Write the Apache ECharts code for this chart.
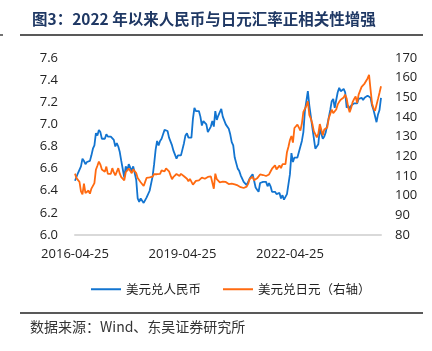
<!DOCTYPE html>
<html><head><meta charset="utf-8">
<script src="https://cdn.jsdelivr.net/npm/echarts@6/dist/echarts.min.js"></script>
<style>html,body{margin:0;padding:0;background:#fff}#c{width:432px;height:351px}</style>
</head><body><div id="c"></div>
<script>
// Semi-monthly observations (10th and 25th of each month), 2016-04-25 .. 2024-11-10
function buildDates(){
  var out=[], y=2016, m=4, d=25;
  while(true){
    out.push(y+'-'+(m<10?'0':'')+m+'-'+d);
    if(y===2024 && m===11 && d===10) break;
    if(d===25){d=10; m++; if(m>12){m=1;y++;}} else {d=25;}
  }
  return out;
}
var dates = buildDates();
var shownLabels = ['2016-04-25','2019-04-25','2022-04-25'];

var usdcny = [
6.49,6.50,6.56,6.56,6.62,6.69,6.67,6.64,6.66,6.67,6.67,6.72,6.78,6.81,6.92,6.90,6.95,
6.93,6.87,6.88,6.87,6.91,6.89,6.90,6.89,6.90,6.86,6.80,6.83,6.80,6.75,6.67,6.66,6.52,6.62,6.58,6.64,6.64,6.58,6.62,6.56,
6.50,6.33,6.30,6.33,6.33,6.29,6.30,6.34,6.35,6.40,6.41,6.53,6.64,6.77,6.85,6.81,6.85,6.87,6.91,6.95,6.95,6.94,6.88,6.89,
6.81,6.76,6.77,6.69,6.72,6.71,6.72,6.73,6.83,6.90,6.92,6.88,6.88,6.88,7.05,7.15,7.12,7.12,7.12,7.07,6.99,7.03,7.03,7.00,
6.93,6.93,6.98,7.03,6.98,7.12,7.04,7.08,7.08,7.14,7.07,7.08,7.00,6.99,6.96,6.91,6.84,6.81,6.70,6.69,6.60,6.58,6.54,6.53,
6.48,6.48,6.45,6.46,6.51,6.53,6.55,6.49,6.43,6.41,6.39,6.47,6.48,6.48,6.47,6.48,6.44,6.47,6.44,6.39,6.40,6.39,6.37,6.37,
6.38,6.33,6.36,6.32,6.32,6.37,6.37,6.55,6.74,6.66,6.70,6.69,6.70,6.75,6.75,6.85,6.93,7.12,7.12,7.30,7.17,7.16,6.97,6.97,
6.78,6.79,6.82,6.96,6.95,6.87,6.89,6.93,6.93,7.06,7.13,7.21,7.23,7.15,7.22,7.29,7.33,7.30,7.30,7.32,7.29,7.15,7.17,7.14,
7.17,7.18,7.19,7.19,7.19,7.23,7.23,7.24,7.22,7.24,7.25,7.26,7.27,7.24,7.17,7.13,7.12,7.02,7.09,7.13,7.24
];
var usdjpy = [
111.2,108.9,109.9,107.0,102.2,100.6,106.1,101.3,100.5,102.6,101.0,103.6,104.3,106.4,113.2,115.2,117.3,
115.8,113.3,113.3,112.1,114.8,111.1,111.0,111.1,114.0,111.8,110.3,111.3,114.0,111.2,109.4,109.3,107.8,111.9,112.4,113.8,113.5,111.4,113.4,113.3,
111.5,109.0,108.8,106.8,106.8,104.9,107.0,109.1,109.6,109.3,109.8,109.7,111.0,111.0,110.9,111.2,111.1,112.9,112.5,112.3,113.9,112.9,112.4,110.3,
108.4,109.6,109.8,111.0,111.2,110.0,111.1,111.6,109.9,109.4,108.6,107.3,108.5,108.2,105.6,105.4,107.5,107.6,107.8,108.7,109.2,108.9,108.6,109.4,
109.5,109.3,109.8,110.6,103.5,111.2,108.4,107.5,106.8,107.7,107.1,107.2,107.0,106.0,105.9,106.3,106.1,105.5,105.7,104.8,105.2,104.4,104.3,103.6,
103.9,103.8,104.6,106.0,108.5,109.2,109.6,107.8,108.8,108.8,109.6,110.8,110.2,110.5,110.6,110.0,109.9,110.8,112.3,113.7,112.9,115.4,113.4,114.3,
115.3,114.0,116.0,115.5,116.0,122.1,124.9,128.3,130.3,127.0,134.4,135.2,136.1,136.7,133.1,136.7,142.6,143.3,145.7,148.0,140.9,139.2,136.6,132.8,
132.2,129.6,131.4,136.4,136.2,130.7,133.6,133.7,134.7,139.4,139.4,143.7,142.0,141.0,143.8,146.4,147.7,148.8,148.8,149.9,151.4,149.4,145.1,142.4,
144.6,147.6,149.2,150.4,147.1,151.4,151.9,155.3,155.7,157.0,157.1,159.6,161.5,153.9,146.9,144.4,143.1,144.0,149.2,152.3,155.6
];
var seriesNames = ['美元兑人民币','美元兑日元（右轴）'];
var titleText = '图3：2022 年以来人民币与日元汇率正相关性增强';
var sourceText = '数据来源：Wind、东吴证券研究所';

var chart = echarts.init(document.getElementById('c'), null, {renderer:'canvas'});
var font = '"Segoe UI","Open Sans","Noto Sans",sans-serif';
chart.setOption({
  animation:false,
  backgroundColor:'#fff',
  grid:{left:75,right:51,top:58,bottom:116,containLabel:false},
  legend:{
    data:seriesNames, left:86, top:278, itemWidth:30, itemHeight:2, itemGap:22, icon:'rect',
    textStyle:{fontSize:12.5,color:'#222',fontFamily:'"Noto Sans CJK SC",sans-serif'}
  },
  xAxis:{
    type:'category', data:dates, boundaryGap:false,
    axisLine:{lineStyle:{color:'#d9d9d9',width:2}},
    axisTick:{show:false},
    axisLabel:{
      interval:function(i,v){return shownLabels.indexOf(v)>=0;},
      color:'#222',fontSize:13,fontFamily:font,margin:13
    },
    splitLine:{show:false}
  },
  yAxis:[
    {type:'value',min:6.0,max:7.6,interval:0.2,position:'left',
     axisLine:{show:false},axisTick:{show:false},splitLine:{show:false},
     axisLabel:{formatter:function(v){return v.toFixed(1);},color:'#222',fontSize:13,fontFamily:font,margin:17}},
    {type:'value',min:80,max:170,interval:10,position:'right',
     axisLine:{show:false},axisTick:{show:false},splitLine:{show:false},
     axisLabel:{color:'#222',fontSize:13,fontFamily:font,margin:14}}
  ],
  series:[
    {name:seriesNames[0],type:'line',data:usdcny,yAxisIndex:0,showSymbol:false,
     lineStyle:{color:'#1274d0',width:1.8},itemStyle:{color:'#1274d0'}},
    {name:seriesNames[1],type:'line',data:usdjpy,yAxisIndex:1,showSymbol:false,
     lineStyle:{color:'#ff6a10',width:1.8},itemStyle:{color:'#ff6a10'}}
  ],
  graphic:[
    {type:'text',left:32,top:11,style:{text:titleText,fontSize:15.5,fontWeight:'bold',fill:'#1f3864',fontFamily:'"Noto Sans CJK SC",sans-serif'}},
    {type:'line',shape:{x1:20,y1:35,x2:423,y2:35},style:{stroke:'#222',lineWidth:1.5}},
    {type:'line',shape:{x1:0,y1:35,x2:3,y2:35},style:{stroke:'#444',lineWidth:1.5}},
    {type:'line',shape:{x1:20,y1:313,x2:423,y2:313},style:{stroke:'#222',lineWidth:1.5}},
    {type:'text',left:30,top:320,style:{text:sourceText,fontSize:14,fill:'#333',fontFamily:'"Noto Sans CJK SC",sans-serif'}}
  ]
});
</script></body></html>
